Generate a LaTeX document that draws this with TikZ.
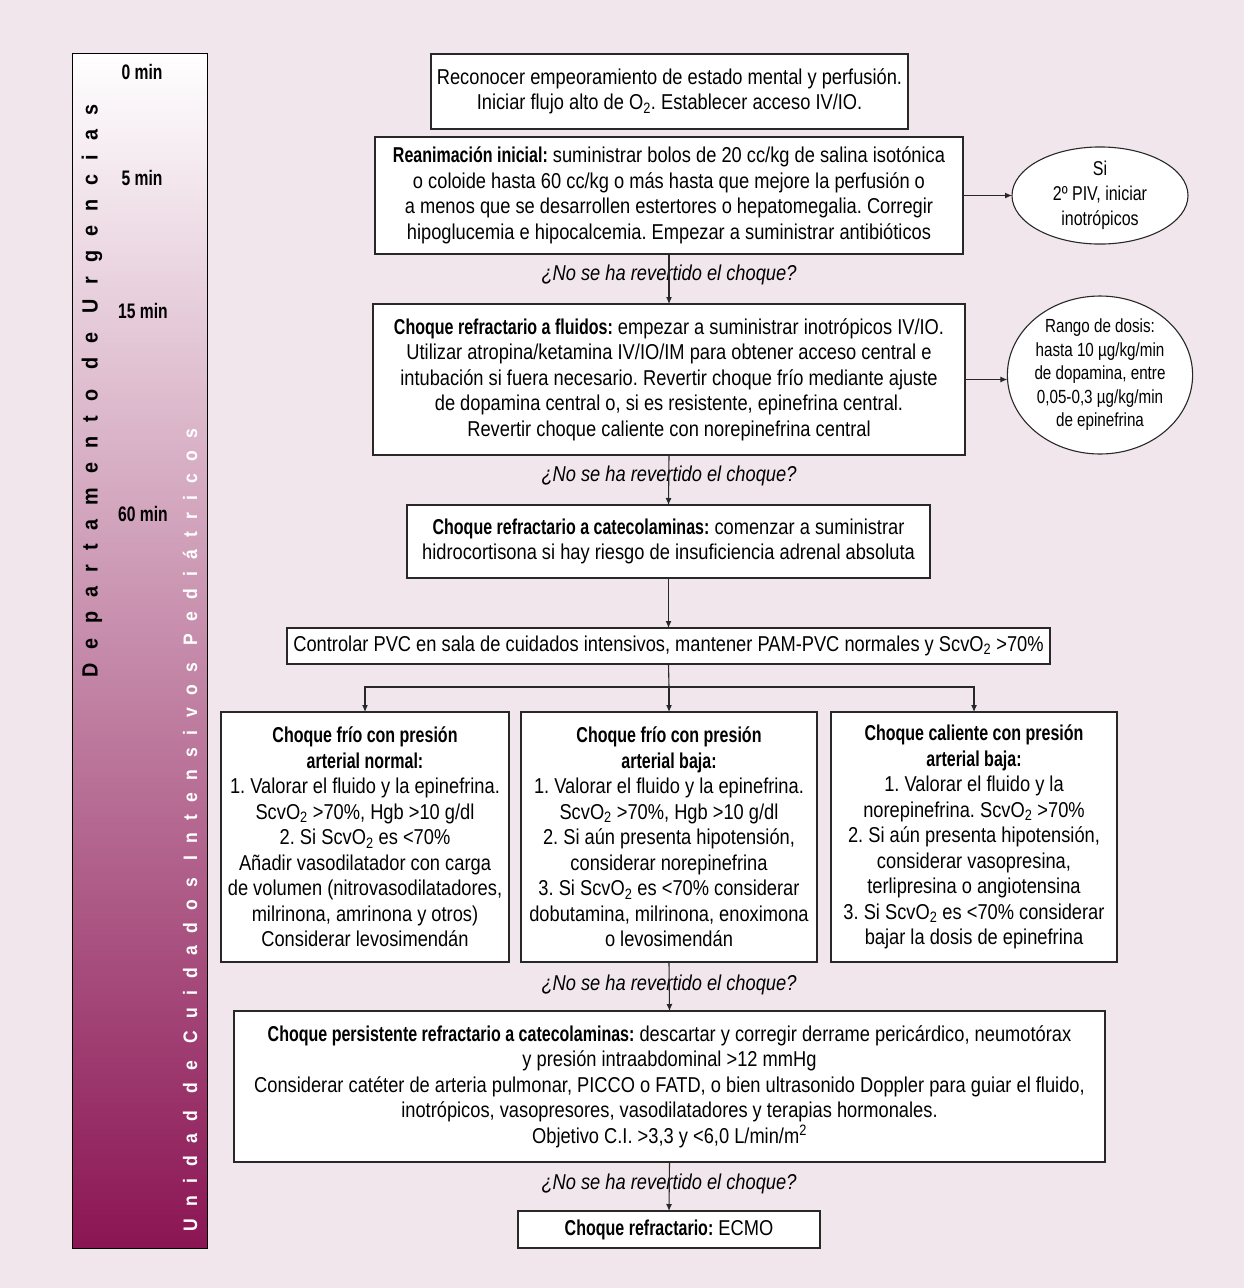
\documentclass[tikz,border=0pt]{standalone}
\usepackage{fontspec}
\setmainfont{Liberation Sans}[FakeStretch=0.85]
\newfontfamily\boldcond{Liberation Sans}[FakeStretch=0.745]
\newfontfamily\ovalfont{Liberation Sans}[FakeStretch=0.8]
\newfontfamily\sidefont{Liberation Sans}[FakeStretch=0.9, LetterSpace=64]
\newfontfamily\sidefontw{Liberation Sans}[FakeStretch=0.9, LetterSpace=63]
\usetikzlibrary{arrows.meta, shapes.geometric}
\definecolor{pagebg}{RGB}{240,230,235}
\definecolor{barbottom}{RGB}{139,21,84}
\definecolor{ink}{RGB}{40,40,40}
\newcommand{\hb}[1]{{\boldcond\bfseries #1}}
\newcommand{\sub}[1]{\textsubscript{#1}}
\frenchspacing
\begin{document}
\begin{tikzpicture}[x=1bp, y=-1bp,
  every node/.style={inner sep=0pt, outer sep=0pt},
  txt/.style={font=\fontsize{21.5bp}{25.5bp}\selectfont, align=center},
  flowbox/.style={txt, draw=ink, line width=1.1bp, fill=white, rectangle},
  oval/.style={ellipse, draw=ink, line width=1.1bp, fill=white, align=center},
  ask/.style={align=center, font=\fontsize{21.5bp}{25.5bp}\selectfont\itshape},
  arr/.style={line width=1.1bp, draw=ink, -{Latex[length=7bp,width=6bp]}},
  link/.style={line width=1.1bp, draw=ink},
  timelbl/.style={font=\fontsize{21bp}{24bp}\selectfont\boldcond\bfseries}
]
% page background
\fill[pagebg] (0,0) rectangle (1244,1288);
\useasboundingbox (0,0) rectangle (1244,1288);

% time bar on the left
\node[draw=black, line width=1bp, rectangle, minimum width=134bp, minimum height=1194bp,
      top color=white, bottom color=barbottom] (bar) at (140,651) {};
\node[rotate=90, font=\fontsize{22bp}{24bp}\selectfont\sidefont\bfseries] (er) at (92,391) {Departamento de Urgencias};
\node[rotate=90, text=white, font=\fontsize{19.5bp}{22bp}\selectfont\sidefontw\bfseries] (icu) at (190,830) {Unidad de Cuidados Intensivos Pediátricos};
\node[timelbl] (t0) at (142,72) {0 min};
\node[timelbl] (t5) at (142,178) {5 min};
\node[timelbl] (t15) at (143,311) {15 min};
\node[timelbl] (t60) at (143,514) {60 min};

% main flow
\node[flowbox, minimum width=477bp, minimum height=75bp] (recon) at (669.5,91.5)
  {Reconocer empeoramiento de estado mental y perfusión.\\
   Iniciar flujo alto de O\sub{2}. Establecer acceso IV/IO.};

\node[flowbox, minimum width=588bp, minimum height=117bp] (reanim) at (669,195.5)
  {\hb{Reanimación inicial:} suministrar bolos de 20 cc/kg de salina isotónica\\
   o coloide hasta 60 cc/kg o más hasta que mejore la perfusión o\\
   a menos que se desarrollen estertores o hepatomegalia. Corregir\\
   hipoglucemia e hipocalcemia. Empezar a suministrar antibióticos};

\node[oval, minimum width=176bp, minimum height=92bp,
      font=\fontsize{20bp}{25bp}\selectfont\ovalfont] (piv) at (1100,195.5)
  {Si\\ 2º PIV, iniciar\\ inotrópicos};

\node[ask] (q1) at (669,275) {¿No se ha revertido el choque?};

\node[flowbox, minimum width=592bp, minimum height=151bp] (fluid) at (669,379.5)
  {\hb{Choque refractario a fluidos:} empezar a suministrar inotrópicos IV/IO.\\
   Utilizar atropina/ketamina IV/IO/IM para obtener acceso central e\\
   intubación si fuera necesario. Revertir choque frío mediante ajuste\\
   de dopamina central o, si es resistente, epinefrina central.\\
   Revertir choque caliente con norepinefrina central};

\node[oval, minimum width=174bp, minimum height=144bp,
      font=\fontsize{19bp}{23.5bp}\selectfont\ovalfont] (dose) at (1100,375)
  {Rango de dosis:\\ hasta 10 µg/kg/min\\ de dopamina, entre\\ 0,05-0,3 µg/kg/min\\ de epinefrina};

\node[ask] (q2) at (669,476) {¿No se ha revertido el choque?};

\node[flowbox, minimum width=523bp, minimum height=73bp] (cate) at (668.5,541.5)
  {\hb{Choque refractario a catecolaminas:} comenzar a suministrar\\
   hidrocortisona si hay riesgo de insuficiencia adrenal absoluta};

\node[flowbox, minimum width=763bp, minimum height=36bp] (pvc) at (668.5,646)
  {Controlar PVC en sala de cuidados intensivos, mantener PAM-PVC normales y ScvO\sub{2} >70\%};

\node[flowbox, minimum width=288bp, minimum height=250bp] (cold) at (365,837)
  {\hb{Choque frío con presión}\\
   \hb{arterial normal:}\\
   1. Valorar el fluido y la epinefrina.\\
   ScvO\sub{2} >70\%, Hgb >10 g/dl\\
   2. Si ScvO\sub{2} es <70\%\\
   Añadir vasodilatador con carga\\
   de volumen (nitrovasodilatadores,\\
   milrinona, amrinona y otros)\\
   Considerar levosimendán};

\node[flowbox, minimum width=296bp, minimum height=250bp] (coldlow) at (669,837)
  {\hb{Choque frío con presión}\\
   \hb{arterial baja:}\\
   1. Valorar el fluido y la epinefrina.\\
   ScvO\sub{2} >70\%, Hgb >10 g/dl\\
   2. Si aún presenta hipotensión,\\
   considerar norepinefrina\\
   3. Si ScvO\sub{2} es <70\% considerar\\
   dobutamina, milrinona, enoximona\\
   o levosimendán};

\node[flowbox, minimum width=286bp, minimum height=250bp] (warm) at (974,837)
  {\hb{Choque caliente con presión}\\
   \hb{arterial baja:}\\
   1. Valorar el fluido y la\\
   norepinefrina. ScvO\sub{2} >70\%\\
   2. Si aún presenta hipotensión,\\
   considerar vasopresina,\\
   terlipresina o angiotensina\\
   3. Si ScvO\sub{2} es <70\% considerar\\
   bajar la dosis de epinefrina};

\node[ask] (q3) at (669,985) {¿No se ha revertido el choque?};

\node[flowbox, minimum width=871bp, minimum height=151bp] (persist) at (669.5,1086.5)
  {\hb{Choque persistente refractario a catecolaminas:} descartar y corregir derrame pericárdico, neumotórax\\
   y presión intraabdominal >12 mmHg\\
   Considerar catéter de arteria pulmonar, PICCO o FATD, o bien ultrasonido Doppler para guiar el fluido,\\
   inotrópicos, vasopresores, vasodilatadores y terapias hormonales.\\
   Objetivo C.I. >3,3 y <6,0 L/min/m\textsuperscript{2}};

\node[ask] (q4) at (669,1184) {¿No se ha revertido el choque?};

\node[flowbox, minimum width=302bp, minimum height=37bp] (ecmo) at (669,1229.5)
  {\hb{Choque refractario:} ECMO};

% connectors
\draw[arr] (reanim.east) -- (piv.west);
\draw[arr] (fluid.east) -- (fluid.east -| dose.west);
\draw[arr] (reanim.south) -- (fluid.north);
\draw[arr] (fluid.south) -- (cate.north);
\draw[arr] (cate.south) -- (pvc.north);
\coordinate (fork) at (669,687);
\draw[link] (pvc.south) -- (fork);
\draw[arr] (fork) -| (cold.north);
\draw[arr] (fork) -| (warm.north);
\draw[arr] (fork) -- (coldlow.north);
\draw[arr] (coldlow.south) -- (persist.north);
\draw[arr] (persist.south) -- (ecmo.north);
\end{tikzpicture}
\end{document}
